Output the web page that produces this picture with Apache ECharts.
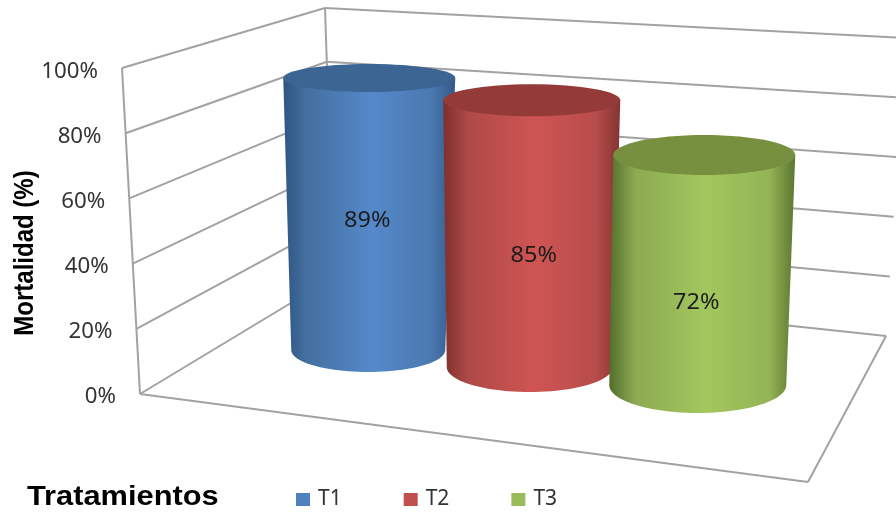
<!DOCTYPE html>
<html>
<head>
<meta charset="utf-8">
<style>html,body{margin:0;padding:0;background:#fff}#c{width:896px;height:515px}</style>
<script src="https://cdn.jsdelivr.net/npm/echarts@6/dist/echarts.min.js"></script>
</head>
<body>
<div id="c"></div>
<script>
var categories = ['T1', 'T2', 'T3'];
var t1Values = [89];
var t2Values = [85];
var t3Values = [72];
var tickValues = [0, 20, 40, 60, 80, 100];

/* Perspective frame of the 3D box (pixels) */
var frame = {
  frontTop: [122, 68], frontBottom: [140, 394],
  backTop: [325, 8], backBottom: [334, 277],
  rightTop: [905, 38], rightBottom: [886, 336],
  floorFront: [808, 482]
};
/* Perspective parameters of each cylinder */
var shapes = {
  T1: { dxTop: -1, rxTop: 86, ryTop: 14, dxBase: -2, rxBase: 77, ryBase: 22, baseY: 350, k: 0.940, labelDx: -3, labelY: 221,
        top: '#3d6593', stops: ['#2f5584', '#44709f', '#5589cb', '#4a79b0', '#34598a'] },
  T2: { dxTop: -5, rxTop: 88.5, ryTop: 16, dxBase: -7, rxBase: 83, ryBase: 25, baseY: 367, k: 0.966, labelDx: -3, labelY: 256,
        top: '#943b39', stops: ['#7e2f2d', '#ae4947', '#cf5553', '#b74d4b', '#843432'] },
  T3: { dxTop: 1, rxTop: 91, ryTop: 20, dxBase: -5.5, rxBase: 88.5, ryBase: 28, baseY: 385, k: 0.983, labelDx: -7, labelY: 303,
        top: '#769040', stops: ['#536e2d', '#8caa52', '#a3c75e', '#94b455', '#5b7631'] }
};
var FONT = '"Noto Sans", sans-serif';

function lerp(a, b, t) { return [a[0] + (b[0] - a[0]) * t, a[1] + (b[1] - a[1]) * t]; }
function lineEl(p, q) {
  return { type: 'line', shape: { x1: p[0], y1: p[1], x2: q[0], y2: q[1] },
           style: { stroke: '#a2a2a2', lineWidth: 2, fill: null } };
}

function renderFrame(params, api) {
  var v = api.value(1);
  var t = v / 100;
  var y = api.coord([0, v])[1];
  var a = lerp(frame.frontBottom, frame.frontTop, t);
  var b = lerp(frame.backBottom, frame.backTop, t);
  var c = lerp(frame.rightBottom, frame.rightTop, t);
  var children = [
    lineEl(a, b), lineEl(b, c),
    { type: 'text', x: a[0] - 24, y: y + 2, scaleX: 1.06, style: { text: tickValues[params.dataIndex] + '%', x: 0, y: 0, textAlign: 'right',
        textVerticalAlign: 'middle', font: '21px ' + FONT, fill: '#333333' } }
  ];
  if (v === 100) {
    children.push(lineEl(frame.frontBottom, frame.frontTop), lineEl(frame.backBottom, frame.backTop));
  }
  if (v === 0) {
    children.push(lineEl(frame.frontBottom, frame.floorFront), lineEl(frame.floorFront, frame.rightBottom));
  }
  return { type: 'group', children: children };
}

function renderCylinder(params, api) {
  var cat = categories[api.value(0)];
  var s = shapes[cat];
  var value = api.value(1);
  var p = api.coord([api.value(0), value]);
  var p0 = api.coord([api.value(0), 0]);
  var topY = s.baseY - (p0[1] - p[1]) * s.k;
  var cxT = p[0] + s.dxTop, cxB = p[0] + s.dxBase;
  var pts = [[cxT - s.rxTop, topY]];
  for (var i = 0; i <= 48; i++) {
    var th = Math.PI - Math.PI * i / 48;
    pts.push([cxB + s.rxBase * Math.cos(th), s.baseY + s.ryBase * Math.sin(th)]);
  }
  pts.push([cxT + s.rxTop, topY]);
  var g = s.stops;
  var grad = new echarts.graphic.LinearGradient(0, 0, 1, 0, [
    { offset: 0, color: g[0] }, { offset: 0.14, color: g[1] }, { offset: 0.52, color: g[2] },
    { offset: 0.86, color: g[3] }, { offset: 1, color: g[4] }
  ]);
  return { type: 'group', children: [
    { type: 'polygon', shape: { points: pts }, style: { fill: grad } },
    { type: 'ellipse', shape: { cx: cxT, cy: topY, rx: s.rxTop, ry: s.ryTop }, style: { fill: s.top } },
    { type: 'text', x: p[0] + s.labelDx, y: s.labelY, scaleX: 1.12, style: { text: value + '%', x: 0, y: 0, textAlign: 'center',
        textVerticalAlign: 'middle', font: '21px ' + FONT, fill: '#1c1c1c' } }
  ] };
}

function cylSeries(name, color, vals, idx) {
  return {
    name: name, type: 'custom', renderItem: renderCylinder, clip: false, z: 3 + idx,
    itemStyle: { color: color }, encode: { x: 0, y: 1 },
    data: vals.map(function (v) { return [idx, v]; })
  };
}

var chart = echarts.init(document.getElementById('c'), null, { renderer: 'canvas' });
chart.setOption({
  animation: false,
  backgroundColor: '#ffffff',
  grid: { left: 287, width: 499.5, top: 70, height: 325 },
  xAxis: { type: 'category', data: categories, show: false },
  yAxis: { type: 'value', min: 0, max: 100, interval: 20, show: false },
  legend: {
    data: categories, left: 291, top: 484, itemWidth: 14, itemHeight: 13, itemGap: 62, icon: 'rect',
    textStyle: { fontFamily: FONT, fontSize: 21, color: '#333333', padding: [0, 0, 0, 3] }
  },
  graphic: [
    { type: 'text', x: 27, y: 497, scaleX: 1.1,
      style: { text: 'Tratamientos', x: 0, y: 0, textVerticalAlign: 'middle', font: 'bold 28px "Liberation Sans", sans-serif', fill: '#000' } },
    { type: 'text', x: 26, y: 253, rotation: Math.PI / 2, scaleY: 1.12,
      style: { text: 'Mortalidad (%)', x: 0, y: 0, textAlign: 'center', textVerticalAlign: 'middle', font: 'bold 24px "Liberation Sans", sans-serif', fill: '#000' } }
  ],
  series: [
    { name: 'frame', type: 'custom', renderItem: renderFrame, clip: false, z: 1, silent: true,
      encode: { x: 0, y: 1 }, data: tickValues.map(function (v) { return [0, v]; }) },
    cylSeries('T1', '#4f81bd', t1Values, 0),
    cylSeries('T2', '#c0504d', t2Values, 1),
    cylSeries('T3', '#9bbb59', t3Values, 2)
  ]
});
</script>
</body>
</html>
